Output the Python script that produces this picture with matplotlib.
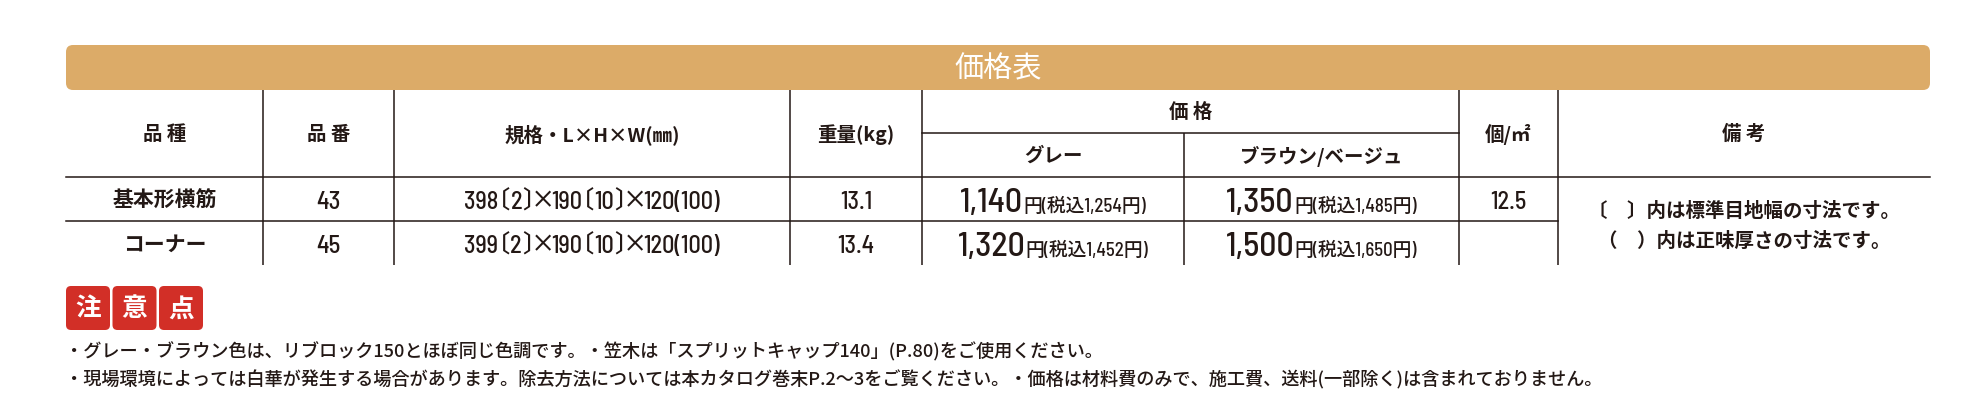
import re

import matplotlib
matplotlib.use("Agg")
import matplotlib.pyplot as plt
from matplotlib import font_manager
from matplotlib.patches import FancyBboxPatch

# --- data -----------------------------------------------------------------
title = "価格表"
categories = ["基本形横筋", "コーナー"]
product_numbers = ["43", "45"]
sizes = ["398〔2〕×190〔10〕×120(100)", "399〔2〕×190〔10〕×120(100)"]
weights = ["13.1", "13.4"]
price_gray = [1140, 1320]
price_gray_tax = [1254, 1452]
price_brown = [1350, 1500]
price_brown_tax = [1485, 1650]
units_per_m2 = ["12.5", ""]
remarks = ["〔　〕内は標準目地幅の寸法です。", "（　）内は正味厚さの寸法です。"]
headers_single = ["品 種", "品 番", "規格・L×H×W(㎜)", "重量(kg)", "個/㎡", "備 考"]
header_price = "価 格"
headers_price_sub = ["グレー", "ブラウン/ベージュ"]
badge_chars = ["注", "意", "点"]
notes = [
    "・グレー・ブラウン色は、リブロック150とほぼ同じ色調です。・笠木は「スプリットキャップ140」(P.80)をご使用ください。",
    "・現場環境によっては白華が発生する場合があります。除去方法については本カタログ巻末P.2～3をご覧ください。・価格は材料費のみで、施工費、送料(一部除く)は含まれておりません。",
]

# --- fonts ----------------------------------------------------------------
available = {f.name for f in font_manager.fontManager.ttflist}


def pick(*names):
    for n in names:
        if n in available:
            return n
    return "DejaVu Sans"


NUM_FONT = pick("Barlow Semi Condensed", "Fira Sans Condensed", "Roboto Condensed",
                "Liberation Sans Narrow", "Noto Sans CJK JP")
JP = ["Noto Sans CJK JP", "DejaVu Sans"]
NUM = [NUM_FONT, "Noto Sans CJK JP", "DejaVu Sans"]

# --- layout (pixel coordinates) ----------------------------------------------
W, H = 1974, 410
INK = "#231815"
TAN = "#dcab68"
RED = "#d22f27"

left, right = 66, 1930
col_x = [66, 263, 394, 790, 922, 1184, 1459, 1558, 1930]
ban_top, ban_bot = 46, 91
sub_y, head_bot, row_div, tab_bot = 134, 178, 222, 266
row_cy = [200, 244]
lw = 1.1

# full-width glyphs that are set tighter in the original (shift, advance in em)
TIGHT = {"〔": (-0.5, 0.5), "〕": (0.0, 0.5), "×": (-0.15, 0.7)}

fig = plt.figure(figsize=(W / 100, H / 100), dpi=100)
ax = fig.add_axes([0, 0, 1, 1])
ax.set_xlim(0, W)
ax.set_ylim(H, 0)
ax.axis("off")
renderer = fig.canvas.get_renderer()


def mid(c):
    return (col_x[c] + col_x[c + 1]) / 2


def em_px(size):
    return size * 100 / 72


def run_text(cx, cy, runs, weight="medium"):
    """runs: list of (text, size). Draw them side by side, centred on cx,
    sharing one baseline."""
    items = []
    for s, size in runs:
        for p in re.split(r"([〔〕×])", s):
            if not p:
                continue
            fam = JP if p in TIGHT else NUM
            t = ax.text(0, 0, p, fontsize=size, family=fam, fontweight=weight,
                        color=INK, ha="left", va="baseline")
            if p in TIGHT:
                shift, adv = TIGHT[p]
                items.append((t, shift * em_px(size), adv * em_px(size)))
            else:
                items.append((t, 0, t.get_window_extent(renderer).width))
    total = sum(a for _, _, a in items)
    big = max(size for _, size in runs)
    base = cy + 0.35 * em_px(big)
    x = cx - total / 2
    for t, shift, adv in items:
        t.set_position((x + shift, base))
        x += adv


# banner
ax.add_patch(FancyBboxPatch((left, ban_top), right - left, ban_bot - ban_top,
                            boxstyle="round,pad=0,rounding_size=7",
                            fc=TAN, ec="none"))
ax.text((left + right) / 2, (ban_top + ban_bot) / 2 + 1, title, color="white",
        fontsize=21, family=JP, ha="center", va="center")

# grid lines
for x in col_x[1:-1]:
    y0 = sub_y if x == col_x[5] else ban_bot
    ax.plot([x, x], [y0, tab_bot], color=INK, lw=lw, solid_capstyle="butt")
ax.plot([col_x[4], col_x[6]], [sub_y, sub_y], color=INK, lw=lw)
ax.plot([left, right], [head_bot, head_bot], color=INK, lw=lw)
ax.plot([left, col_x[7]], [row_div, row_div], color=INK, lw=lw)

# header texts
single_cols = [0, 1, 2, 3, 6, 7]
head_cy = (ban_bot + head_bot) / 2
for label, c in zip(headers_single, single_cols):
    ax.text(mid(c), head_cy, label, color=INK, fontsize=14, fontweight="bold",
            family=JP, ha="center", va="center")
ax.text((col_x[4] + col_x[6]) / 2, (ban_bot + sub_y) / 2, header_price, color=INK,
        fontsize=14, fontweight="bold", family=JP, ha="center", va="center")
for label, c in zip(headers_price_sub, [4, 5]):
    ax.text(mid(c), (sub_y + head_bot) / 2, label, color=INK, fontsize=14,
            fontweight="bold", family=JP, ha="center", va="center")

# body cells
for i, cy in enumerate(row_cy):
    ax.text(mid(0), cy, categories[i], color=INK, fontsize=15, fontweight="bold",
            family=JP, ha="center", va="center")
    run_text(mid(1), cy, [(product_numbers[i], 18)])
    run_text(mid(2), cy, [(sizes[i], 17.5)])
    run_text(mid(3), cy, [(weights[i], 17.5)])
    if units_per_m2[i]:
        run_text(mid(6), cy, [(units_per_m2[i], 17.5)])
    run_text(mid(4), cy, [(f"{price_gray[i]:,}", 24.5),
                          (f"円(税込{price_gray_tax[i]:,}円)", 13.5)])
    run_text(mid(5), cy, [(f"{price_brown[i]:,}", 24.5),
                          (f"円(税込{price_brown_tax[i]:,}円)", 13.5)])

# merged remarks cell
for k, line in enumerate(remarks):
    ax.text(mid(7), 211 + 30 * k, line, color=INK, fontsize=14, fontweight="bold",
            family=JP, ha="center", va="center")

# 注意点 badges
for k, ch in enumerate(badge_chars):
    x = 66 + 46.5 * k
    ax.add_patch(FancyBboxPatch((x, 287), 44, 44, boxstyle="round,pad=0,rounding_size=5",
                                fc=RED, ec="none"))
    ax.text(x + 22, 309, ch, color="white", fontsize=18.5, fontweight="bold",
            family=JP, ha="center", va="center")

# notes
for k, line in enumerate(notes):
    ax.text(65, 352 + 28 * k, line, color=INK, fontsize=13.1, fontweight="medium",
            family=JP, ha="left", va="center")

fig.savefig("out.png", dpi=100)
plt.close(fig)
